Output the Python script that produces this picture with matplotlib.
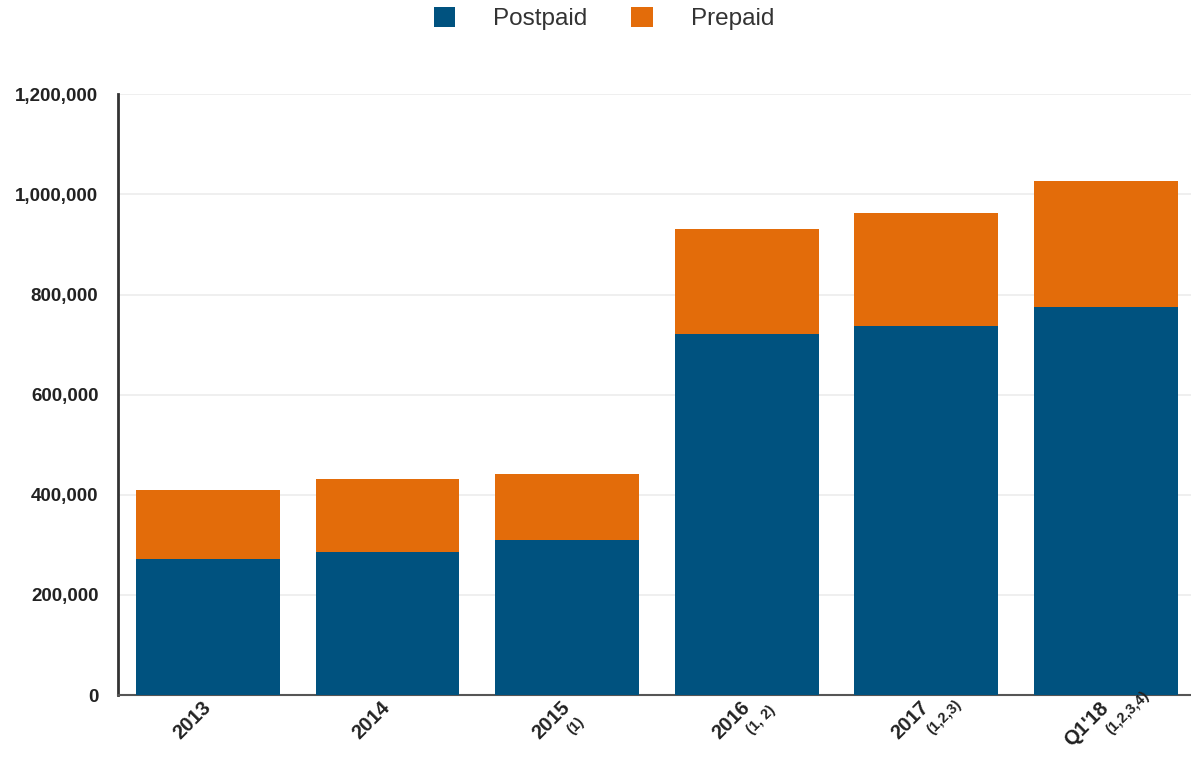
import matplotlib
matplotlib.use("Agg")
import matplotlib.pyplot as plt
from matplotlib.ticker import FuncFormatter

plt.rcParams['font.family'] = ['Liberation Sans', 'DejaVu Sans']

# subscribers by year
years = ['2013', '2014', '2015', '2016', '2017', "Q1'18"]
footnotes = ['', '', '(1)', '(1, 2)', '(1,2,3)', '(1,2,3,4)']
postpaid = [271500, 286000, 310500, 722000, 736500, 775000]
prepaid = [137500, 145500, 130500, 208000, 227000, 251500]

blue = '#00527f'
orange = '#e36c0a'

fig = plt.figure(figsize=(11.91, 7.6), dpi=100)
ax = fig.add_axes([0.099, 0.0855, 0.905, 0.7905])

x = range(len(years))
ax.bar(x, postpaid, width=0.8, color=blue, label='Postpaid', zorder=3)
ax.bar(x, prepaid, width=0.8, bottom=postpaid, color=orange, label='Prepaid', zorder=3)

ax.set_xlim(-0.5, 5.5)
ax.set_ylim(0, 1200000)
ax.set_yticks(range(0, 1200001, 200000))
ax.yaxis.set_major_formatter(FuncFormatter(lambda v, p: f'{int(v):,}'))
ax.grid(axis='y', color='#ececec', linewidth=1.2, zorder=0)

for s in ['top', 'right']:
    ax.spines[s].set_visible(False)
ax.spines['left'].set_color('#333333')
ax.spines['left'].set_linewidth(2)
ax.spines['bottom'].set_color('#555555')
ax.spines['bottom'].set_linewidth(1.5)

ax.tick_params(axis='y', length=0, pad=14, labelsize=13.5, labelcolor='#222222')
ax.tick_params(axis='x', length=0, pad=7, labelsize=14.5, labelcolor='#222222')
for t in ax.get_yticklabels():
    t.set_fontweight('bold')

ax.set_xticks(list(x))
ax.set_xticklabels(years, rotation=45, ha='right', va='center',
                   rotation_mode='anchor', fontweight='bold')

# footnote markers after the year labels
for i, f in enumerate(footnotes):
    if f:
        ax.annotate(f, xy=(i, 0), xycoords=ax.get_xaxis_transform(),
                    xytext=(2, -27), textcoords='offset points',
                    rotation=45, rotation_mode='anchor', ha='left', va='center',
                    fontsize=10.5, fontweight='bold', color='#222222',
                    annotation_clip=False)

fig.legend(loc='center', bbox_to_anchor=(0.507, 0.976), ncol=2, frameon=False,
           fontsize=17.5, handlelength=0.9, handleheight=0.9,
           handletextpad=1.55, columnspacing=1.8, labelcolor='#333333')

fig.savefig('out.png', dpi=100)
